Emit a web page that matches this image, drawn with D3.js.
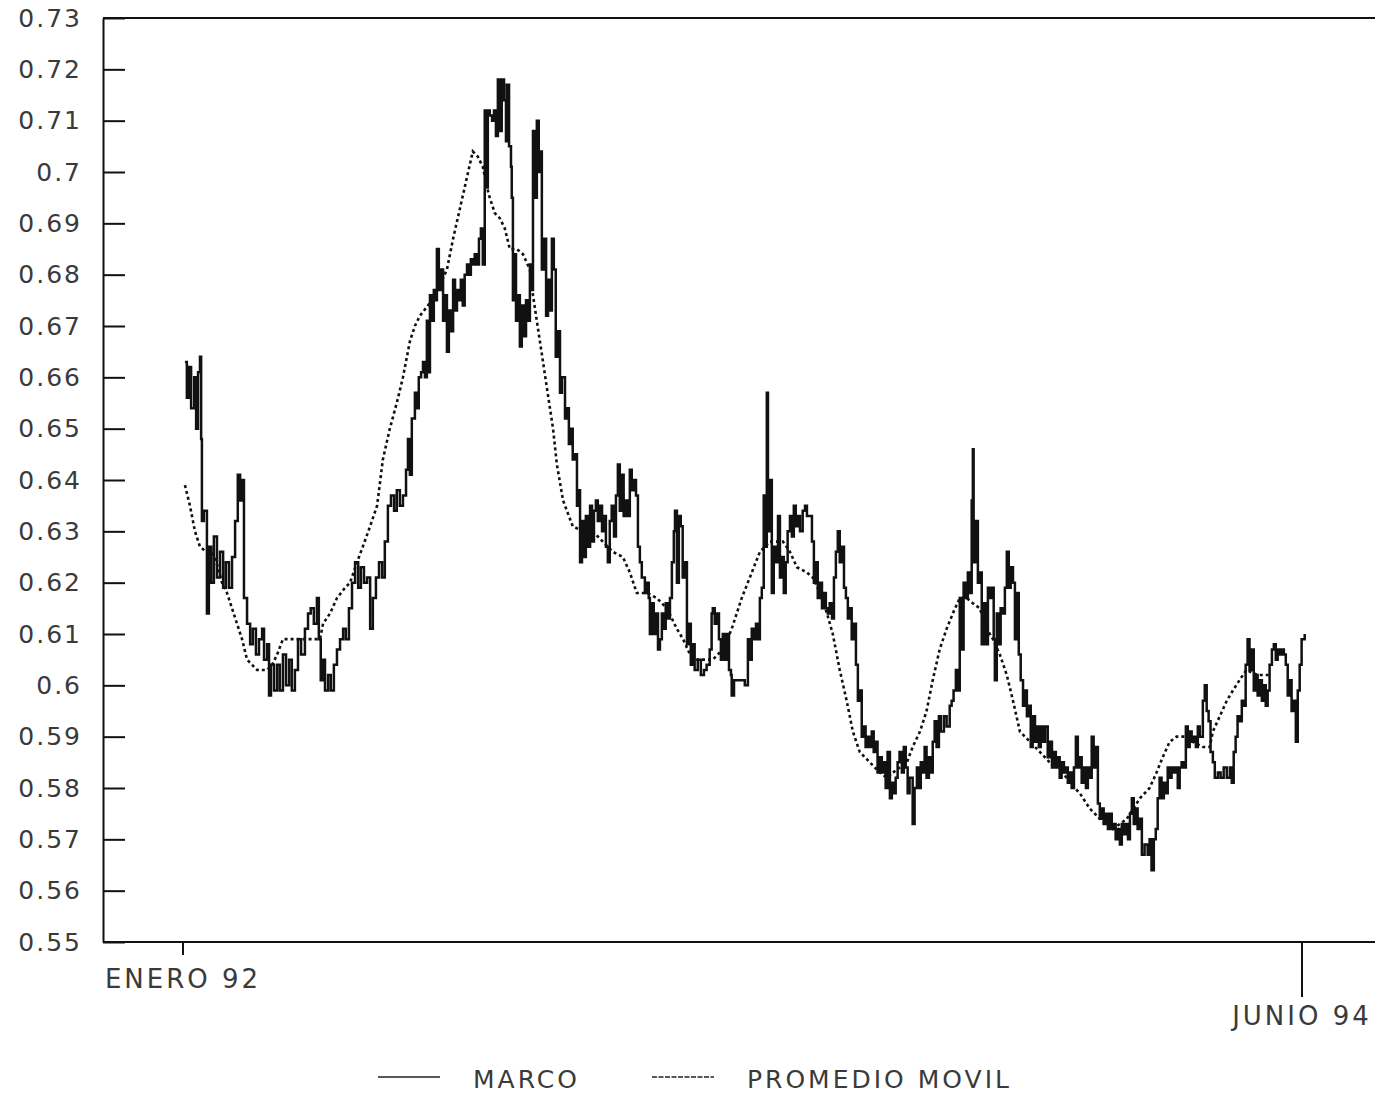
<!DOCTYPE html>
<html>
<head>
<meta charset="utf-8">
<script src="https://cdn.jsdelivr.net/npm/d3@7"></script>
<style>
  body { margin: 0; background: #fff; }
  text { font-family: "DejaVu Sans", sans-serif; fill: #3a3a3a; }
</style>
</head>
<body>
<div class="chart"></div>
<script>
// valores: [mes desde enero 92, cotizacion]
const marco = [
 [0.05,0.663],[0.10,0.656],[0.16,0.662],[0.21,0.654],[0.29,0.660],[0.34,0.650],[0.39,0.661],[0.44,0.664],
 [0.47,0.648],[0.49,0.632],[0.54,0.634],[0.62,0.614],[0.67,0.627],[0.73,0.620],[0.80,0.629],[0.88,0.621],
 [0.96,0.626],[1.04,0.619],[1.11,0.624],[1.19,0.619],[1.27,0.625],[1.35,0.632],[1.42,0.641],[1.48,0.636],
 [1.53,0.640],[1.58,0.617],[1.66,0.612],[1.74,0.608],[1.81,0.611],[1.89,0.606],[1.97,0.609],[2.05,0.611],
 [2.10,0.605],[2.18,0.608],[2.23,0.598],[2.28,0.604],[2.36,0.599],[2.44,0.604],[2.51,0.599],[2.59,0.606],
 [2.67,0.600],[2.75,0.605],[2.82,0.599],[2.90,0.603],[2.98,0.609],[3.06,0.606],[3.16,0.611],[3.24,0.614],
 [3.31,0.615],[3.39,0.612],[3.47,0.617],[3.52,0.609],[3.57,0.601],[3.63,0.605],[3.68,0.599],[3.76,0.602],
 [3.83,0.599],[3.91,0.604],[3.99,0.607],[4.07,0.609],[4.15,0.611],[4.22,0.609],[4.30,0.615],[4.38,0.620],
 [4.46,0.624],[4.54,0.619],[4.61,0.623],[4.69,0.620],[4.77,0.621],[4.85,0.611],[4.92,0.617],[5.00,0.621],
 [5.08,0.624],[5.16,0.621],[5.23,0.628],[5.31,0.635],[5.39,0.637],[5.47,0.634],[5.54,0.638],[5.62,0.635],
 [5.70,0.637],[5.78,0.642],[5.83,0.648],[5.88,0.641],[5.93,0.652],[6.01,0.657],[6.06,0.654],[6.11,0.660],
 [6.17,0.661],[6.22,0.663],[6.27,0.660],[6.32,0.671],[6.35,0.661],[6.40,0.676],[6.45,0.671],[6.50,0.677],
 [6.56,0.675],[6.58,0.685],[6.63,0.677],[6.69,0.681],[6.74,0.671],[6.79,0.676],[6.84,0.665],[6.89,0.673],
 [6.94,0.669],[7.00,0.679],[7.05,0.673],[7.10,0.677],[7.15,0.675],[7.20,0.679],[7.25,0.674],[7.30,0.680],
 [7.36,0.682],[7.41,0.680],[7.46,0.683],[7.51,0.682],[7.56,0.684],[7.61,0.682],[7.67,0.687],[7.72,0.689],
 [7.77,0.682],[7.82,0.712],[7.85,0.697],[7.90,0.712],[7.95,0.711],[8.01,0.710],[8.06,0.712],[8.11,0.707],
 [8.16,0.718],[8.21,0.708],[8.26,0.718],[8.32,0.714],[8.37,0.706],[8.39,0.717],[8.45,0.705],[8.50,0.701],
 [8.52,0.695],[8.55,0.675],[8.57,0.684],[8.63,0.671],[8.68,0.676],[8.73,0.666],[8.78,0.674],[8.84,0.668],
 [8.89,0.675],[8.94,0.671],[8.99,0.682],[9.04,0.677],[9.07,0.708],[9.12,0.695],[9.17,0.710],[9.22,0.700],
 [9.27,0.704],[9.30,0.681],[9.35,0.687],[9.41,0.672],[9.46,0.679],[9.51,0.673],[9.56,0.687],[9.61,0.681],
 [9.66,0.664],[9.71,0.669],[9.77,0.657],[9.82,0.660],[9.90,0.652],[9.95,0.654],[10.00,0.647],[10.05,0.650],
 [10.10,0.644],[10.16,0.645],[10.21,0.635],[10.26,0.638],[10.29,0.624],[10.34,0.632],[10.39,0.625],[10.44,0.633],
 [10.49,0.627],[10.55,0.635],[10.60,0.628],[10.65,0.634],[10.70,0.636],[10.75,0.632],[10.80,0.635],[10.86,0.630],
 [10.91,0.633],[10.96,0.627],[11.01,0.624],[11.06,0.632],[11.11,0.635],[11.17,0.629],[11.22,0.637],[11.27,0.643],
 [11.32,0.634],[11.37,0.641],[11.42,0.633],[11.48,0.636],[11.53,0.633],[11.58,0.642],[11.63,0.638],[11.68,0.640],
 [11.74,0.637],[11.79,0.627],[11.84,0.624],[11.89,0.621],[11.97,0.618],[12.02,0.620],[12.07,0.617],[12.10,0.610],
 [12.15,0.616],[12.20,0.610],[12.25,0.614],[12.31,0.607],[12.36,0.609],[12.41,0.614],[12.46,0.611],[12.51,0.616],
 [12.56,0.613],[12.62,0.617],[12.67,0.624],[12.72,0.630],[12.75,0.634],[12.80,0.620],[12.85,0.633],[12.90,0.631],
 [12.95,0.621],[13.00,0.624],[13.06,0.608],[13.11,0.612],[13.16,0.604],[13.21,0.608],[13.26,0.603],[13.34,0.605],
 [13.42,0.602],[13.50,0.603],[13.57,0.604],[13.65,0.607],[13.70,0.614],[13.73,0.615],[13.78,0.612],[13.84,0.614],
 [13.89,0.609],[13.94,0.605],[13.99,0.610],[14.04,0.605],[14.10,0.610],[14.15,0.603],[14.20,0.602],[14.22,0.598],
 [14.28,0.601],[14.35,0.601],[14.43,0.601],[14.56,0.600],[14.64,0.609],[14.69,0.605],[14.74,0.611],[14.79,0.609],
 [14.85,0.612],[14.90,0.609],[14.95,0.617],[15.00,0.619],[15.05,0.637],[15.08,0.627],[15.13,0.657],[15.16,0.630],
 [15.21,0.640],[15.26,0.618],[15.31,0.627],[15.36,0.624],[15.42,0.633],[15.47,0.621],[15.52,0.625],[15.57,0.618],
 [15.62,0.624],[15.67,0.630],[15.73,0.633],[15.78,0.629],[15.83,0.635],[15.88,0.631],[15.93,0.633],[15.99,0.630],
 [16.06,0.634],[16.12,0.635],[16.17,0.633],[16.25,0.633],[16.30,0.628],[16.35,0.620],[16.40,0.624],[16.45,0.617],
 [16.51,0.620],[16.56,0.615],[16.61,0.618],[16.66,0.615],[16.71,0.614],[16.76,0.616],[16.82,0.613],[16.87,0.621],
 [16.92,0.626],[16.97,0.630],[17.02,0.624],[17.07,0.627],[17.13,0.619],[17.18,0.617],[17.23,0.613],[17.28,0.615],
 [17.33,0.609],[17.38,0.612],[17.44,0.604],[17.49,0.597],[17.54,0.599],[17.59,0.590],[17.64,0.592],[17.69,0.588],
 [17.75,0.590],[17.80,0.588],[17.85,0.591],[17.90,0.587],[17.95,0.589],[18.00,0.583],[18.06,0.586],[18.11,0.583],
 [18.16,0.585],[18.21,0.580],[18.26,0.587],[18.32,0.578],[18.37,0.581],[18.42,0.579],[18.47,0.582],[18.52,0.585],
 [18.57,0.587],[18.63,0.583],[18.68,0.588],[18.73,0.584],[18.78,0.579],[18.83,0.582],[18.91,0.573],[18.96,0.580],
 [19.02,0.584],[19.07,0.580],[19.12,0.585],[19.17,0.583],[19.22,0.588],[19.27,0.582],[19.33,0.586],[19.38,0.583],
 [19.43,0.589],[19.48,0.593],[19.53,0.588],[19.59,0.594],[19.64,0.591],[19.72,0.594],[19.79,0.592],[19.87,0.596],
 [19.92,0.597],[19.97,0.599],[20.03,0.603],[20.08,0.599],[20.13,0.617],[20.18,0.607],[20.23,0.620],[20.29,0.617],
 [20.34,0.622],[20.39,0.618],[20.44,0.636],[20.47,0.646],[20.49,0.624],[20.55,0.632],[20.60,0.620],[20.65,0.622],
 [20.70,0.608],[20.75,0.616],[20.81,0.608],[20.86,0.619],[20.91,0.617],[20.96,0.619],[21.01,0.609],[21.04,0.601],
 [21.09,0.614],[21.14,0.608],[21.19,0.615],[21.25,0.614],[21.30,0.619],[21.35,0.626],[21.40,0.619],[21.45,0.623],
 [21.51,0.620],[21.56,0.609],[21.61,0.618],[21.66,0.606],[21.71,0.601],[21.77,0.596],[21.82,0.599],[21.87,0.594],
 [21.92,0.596],[21.97,0.588],[22.02,0.594],[22.08,0.589],[22.13,0.592],[22.18,0.588],[22.23,0.592],[22.28,0.589],
 [22.34,0.592],[22.41,0.586],[22.46,0.589],[22.52,0.584],[22.57,0.587],[22.62,0.584],[22.67,0.586],[22.72,0.582],
 [22.77,0.585],[22.83,0.583],[22.88,0.584],[22.93,0.581],[22.98,0.583],[23.03,0.580],[23.09,0.584],[23.14,0.590],
 [23.19,0.584],[23.24,0.586],[23.29,0.581],[23.35,0.584],[23.40,0.580],[23.45,0.584],[23.50,0.582],[23.55,0.590],
 [23.60,0.584],[23.66,0.588],[23.71,0.577],[23.76,0.574],[23.81,0.576],[23.86,0.573],[23.92,0.575],[23.97,0.572],
 [24.02,0.575],[24.07,0.572],[24.12,0.573],[24.17,0.570],[24.23,0.572],[24.28,0.569],[24.33,0.573],[24.38,0.571],
 [24.43,0.573],[24.49,0.570],[24.54,0.575],[24.59,0.578],[24.64,0.573],[24.69,0.576],[24.74,0.572],[24.80,0.574],
 [24.85,0.567],[24.92,0.569],[25.00,0.567],[25.05,0.570],[25.10,0.564],[25.16,0.570],[25.21,0.572],[25.26,0.578],
 [25.31,0.582],[25.36,0.578],[25.42,0.581],[25.47,0.579],[25.52,0.584],[25.57,0.582],[25.62,0.584],[25.68,0.583],
 [25.73,0.584],[25.78,0.580],[25.83,0.584],[25.88,0.585],[25.94,0.584],[25.99,0.592],[26.04,0.588],[26.09,0.591],
 [26.14,0.589],[26.20,0.590],[26.25,0.588],[26.30,0.592],[26.35,0.590],[26.43,0.597],[26.48,0.600],[26.53,0.595],
 [26.58,0.593],[26.63,0.587],[26.69,0.585],[26.74,0.582],[26.82,0.583],[26.89,0.582],[26.97,0.584],[27.05,0.582],
 [27.13,0.584],[27.18,0.581],[27.23,0.587],[27.28,0.590],[27.33,0.594],[27.38,0.593],[27.44,0.597],[27.49,0.596],
 [27.54,0.604],[27.59,0.609],[27.64,0.603],[27.70,0.607],[27.75,0.599],[27.80,0.602],[27.85,0.598],[27.90,0.601],
 [27.96,0.597],[28.01,0.600],[28.06,0.596],[28.11,0.599],[28.16,0.604],[28.22,0.607],[28.27,0.608],[28.32,0.605],
 [28.37,0.607],[28.42,0.606],[28.47,0.607],[28.53,0.606],[28.58,0.604],[28.63,0.598],[28.68,0.601],[28.73,0.595],
 [28.79,0.597],[28.84,0.589],[28.89,0.599],[28.94,0.604],[28.99,0.609],[29.07,0.610]
];

const promedioMovil = [
 [0.05,0.639],[0.18,0.635],[0.31,0.630],[0.44,0.627],[0.60,0.626],[0.75,0.626],[0.91,0.623],[1.01,0.620],
 [1.14,0.618],[1.27,0.615],[1.40,0.612],[1.53,0.609],[1.66,0.605],[1.79,0.604],[1.92,0.603],[2.05,0.603],
 [2.18,0.603],[2.31,0.604],[2.44,0.606],[2.59,0.609],[2.77,0.609],[3.03,0.609],[3.29,0.609],[3.55,0.609],
 [3.63,0.612],[3.81,0.614],[3.99,0.617],[4.20,0.619],[4.33,0.620],[4.51,0.624],[4.66,0.627],[4.85,0.631],
 [5.03,0.635],[5.18,0.644],[5.36,0.650],[5.54,0.655],[5.70,0.660],[5.88,0.667],[6.01,0.670],[6.14,0.672],
 [6.35,0.674],[6.53,0.676],[6.66,0.678],[6.84,0.681],[7.00,0.687],[7.18,0.693],[7.36,0.699],[7.51,0.704],
 [7.64,0.703],[7.77,0.701],[7.88,0.697],[7.95,0.695],[8.08,0.692],[8.21,0.691],[8.34,0.689],[8.47,0.685],
 [8.65,0.685],[8.81,0.684],[8.99,0.681],[9.07,0.676],[9.25,0.667],[9.43,0.658],[9.59,0.650],[9.69,0.643],
 [9.85,0.636],[10.10,0.631],[10.36,0.630],[10.62,0.630],[10.88,0.628],[11.14,0.626],[11.40,0.625],[11.58,0.622],
 [11.76,0.618],[12.02,0.618],[12.28,0.617],[12.54,0.615],[12.80,0.611],[12.96,0.609],[13.14,0.606],[13.32,0.605],
 [13.47,0.605],[13.73,0.605],[13.99,0.607],[14.22,0.611],[14.48,0.617],[14.69,0.621],[14.95,0.626],[15.21,0.628],
 [15.55,0.628],[15.73,0.626],[15.91,0.623],[16.17,0.622],[16.32,0.621],[16.51,0.618],[16.69,0.614],[16.84,0.610],
 [17.02,0.603],[17.20,0.597],[17.36,0.591],[17.54,0.587],[17.80,0.585],[18.06,0.583],[18.24,0.582],[18.40,0.583],
 [18.58,0.584],[18.76,0.585],[18.91,0.588],[19.10,0.591],[19.27,0.595],[19.43,0.601],[19.61,0.607],[19.79,0.611],
 [19.95,0.614],[20.13,0.617],[20.31,0.617],[20.47,0.616],[20.65,0.615],[20.83,0.611],[20.99,0.609],[21.17,0.606],
 [21.35,0.602],[21.51,0.597],[21.69,0.591],[21.95,0.589],[22.21,0.587],[22.46,0.585],[22.72,0.584],[22.98,0.581],
 [23.24,0.579],[23.50,0.576],[23.76,0.574],[24.10,0.572],[24.46,0.574],[24.80,0.578],[25.05,0.580],[25.23,0.583],
 [25.39,0.586],[25.57,0.589],[25.75,0.590],[26.01,0.590],[26.17,0.589],[26.43,0.588],[26.61,0.588],[26.69,0.591],
 [26.87,0.594],[27.05,0.597],[27.21,0.599],[27.38,0.601],[27.56,0.603],[27.85,0.602],[28.16,0.602]
];

const yTicks = [0.55,0.56,0.57,0.58,0.59,0.60,0.61,0.62,0.63,0.64,0.65,0.66,0.67,0.68,0.69,0.70,0.71,0.72,0.73];
const xTickMes = [0, 29];
const xTickLabels = ["ENERO 92", "JUNIO 94"];
const series = ["MARCO", "PROMEDIO MOVIL"];

let width = 1375, height = 1095;
let margin = {left: 103, right: 1375, top: 18, bottom: 942};

let svg = d3.select('.chart')
    .append('svg')
    .attr('width', width)
    .attr('height', height);

let xScale = d3.scaleLinear()
    .domain([0, 29])
    .range([183, 1302]);

let yScale = d3.scaleLinear()
    .domain([0.55, 0.73])
    .range([margin.bottom, margin.top]);

// eje y, marcas hacia adentro
let yAxis = d3.axisLeft(yScale)
    .tickValues(yTicks)
    .tickFormat(d => String(+d.toFixed(2)))
    .tickSizeInner(-22)
    .tickSizeOuter(0)
    .tickPadding(21);

let gy = svg.append('g')
    .attr('transform', `translate(${margin.left},0)`)
    .call(yAxis);
gy.select('.domain').attr('stroke', '#111').attr('stroke-width', 2);
gy.selectAll('.tick line').attr('stroke', '#111').attr('stroke-width', 2);
gy.selectAll('.tick text')
    .attr('font-size', 25)
    .attr('letter-spacing', 2)
    .attr('fill', '#3a3a3a')
    .style('font-family', '"DejaVu Sans", sans-serif');

// marco superior e inferior
svg.append('line')
    .attr('x1', margin.left).attr('x2', margin.right)
    .attr('y1', margin.top).attr('y2', margin.top)
    .attr('stroke', '#111').attr('stroke-width', 2);
svg.append('line')
    .attr('x1', margin.left).attr('x2', margin.right)
    .attr('y1', margin.bottom).attr('y2', margin.bottom)
    .attr('stroke', '#111').attr('stroke-width', 2);

// eje x: dos marcas
let tickLen = [13, 55];
let labelY = [988, 1025];
xTickMes.forEach((m, i) => {
    svg.append('line')
        .attr('x1', xScale(m)).attr('x2', xScale(m))
        .attr('y1', margin.bottom).attr('y2', margin.bottom + tickLen[i])
        .attr('stroke', '#111').attr('stroke-width', 2);
    svg.append('text')
        .attr('x', xScale(m))
        .attr('y', labelY[i])
        .attr('text-anchor', 'middle')
        .attr('font-size', 26)
        .attr('letter-spacing', 3)
        .text(xTickLabels[i]);
});

let lineMarco = d3.line()
    .x(d => xScale(d[0]))
    .y(d => yScale(d[1]))
    .curve(d3.curveStepAfter);

let linePromedio = d3.line()
    .x(d => xScale(d[0]))
    .y(d => yScale(d[1]));

svg.append('path')
    .datum(promedioMovil)
    .attr('fill', 'none')
    .attr('stroke', '#111')
    .attr('stroke-width', 2.6)
    .attr('stroke-dasharray', '3,3')
    .attr('d', linePromedio);

svg.append('path')
    .datum(marco)
    .attr('fill', 'none')
    .attr('stroke', '#111')
    .attr('stroke-width', 2.5)
    .attr('d', lineMarco);

// leyenda
let legX = [378, 652];
let legend = svg.append('g');
series.forEach((s, i) => {
    legend.append('line')
        .attr('x1', legX[i]).attr('x2', legX[i] + 62)
        .attr('y1', 1077).attr('y2', 1077)
        .attr('stroke', '#222')
        .attr('stroke-width', 1.5)
        .attr('stroke-dasharray', i == 0 ? null : '5,1.5');
    legend.append('text')
        .attr('x', legX[i] + 95)
        .attr('y', 1088)
        .attr('font-size', 25)
        .attr('letter-spacing', 3)
        .text(s);
});
</script>
</body>
</html>
